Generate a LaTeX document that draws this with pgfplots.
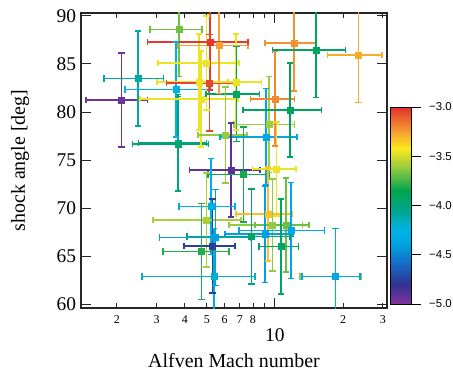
\documentclass[border=0pt]{standalone}
\usepackage{pgfplots}
\pgfplotsset{compat=1.18}
\usepackage{fontspec}
\setmainfont{Liberation Serif}
\setsansfont{Liberation Sans}

\pgfplotsset{colormap={rb}{
 rgb255(0pt)=(130,50,160);
 rgb255(20pt)=(50,50,145);
 rgb255(40pt)=(20,105,195);
 rgb255(60pt)=(0,160,225);
 rgb255(75pt)=(0,180,230);
 rgb255(95pt)=(0,165,140);
 rgb255(115pt)=(0,165,80);
 rgb255(140pt)=(160,205,60);
 rgb255(158pt)=(250,232,30);
 rgb255(175pt)=(245,160,50);
 rgb255(200pt)=(230,45,45)},
 colorbar shift/.style={xshift=3.7bp}}

% #1 x, #2 y, #3 x error, #4 lower end of y bar, #5 upper end of y bar,
% #6 colour value on the colormap (0..1000 <-> -5..-3)
\newcommand{\pt}[6]{%
 \addplot[color of colormap={#6}, line width=1.6pt, mark=-, mark size=3.2bp,
  mark options={solid, line width=1.5pt}]
  coordinates {(#1,#4) (#1,#5)};
 \addplot[color of colormap={#6}, only marks, mark=square*, mark size=3bp,
  error bars/.cd, x dir=both, x explicit,
  error bar style={line width=1.6pt},
  error mark options={rotate=90, mark size=3.2bp, line width=1.5pt}]
  coordinates {(#1,#2) +- (#3,0)};}

\begin{document}
\begin{tikzpicture}
\useasboundingbox (-81bp,-64bp) rectangle (372bp,308bp);
\begin{axis}[
 at={(0,0)}, anchor=south west,
 scale only axis, width=306bp, height=295bp,
 xmode=log, xmin=1.39, xmax=31.3, ymin=59.6, ymax=90.3,
 axis line style={line width=1.1pt, black!85},
 tick align=inside,
 major tick length=10bp, minor tick length=5bp,
 every tick/.style={black!85, line width=0.9pt},
 ytick={60,65,...,90},
 yticklabel style={font=\fontsize{19.5}{20}\selectfont, xshift=-1.5bp},
 /pgf/number format/assume math mode=true,
 xtick={10}, xticklabels={10},
 xticklabel style={font=\fontsize{19.5}{20}\selectfont, yshift=-17.5bp},
 minor xtick={2,3,4,5,6,7,8,9,20,30},
 extra x ticks={2,3,4,5,6,7,8,20,30},
 extra x tick labels={2,3,4,5,6,7,8,2,3},
 extra x tick style={major tick length=0pt, xticklabel style={font=\fontsize{12}{12}\selectfont, yshift=13.5bp}},
 xlabel={Alfven Mach number},
 ylabel={shock angle [deg]},
 label style={font=\fontsize{20}{22}\selectfont},
 xlabel style={at={(axis description cs:0.5,-0.178)}, anchor=center},
 ylabel style={at={(axis description cs:-0.199,0.5)}, anchor=center},
 colormap name=rb, point meta min=-5, point meta max=-3,
 colorbar, colorbar/width=21bp,
 colorbar style={
   at={(parent axis.south east)}, anchor=south west, yshift=4bp,
   height=197bp,
   ytick={-5,-4.5,-4,-3.5,-3},
   yticklabels={−5.0,−4.5,−4.0,−3.5,−3.0},
   yticklabel style={font=\sffamily\fontsize{11.5}{12}\selectfont, xshift=5bp},
   tick align=outside, major tick length=9bp, ytick pos=right,
   axis line style={line width=0.6pt, black},
   every tick/.style={black, line width=0.6pt},
 },
]
\pt{2.10}{81.24}{0.64}{76.34}{86.14}{25}
\pt{2.49}{83.50}{0.73}{78.55}{88.45}{450}
\pt{3.78}{88.60}{0.98}{83.70}{93.50}{660}
\pt{3.72}{76.66}{1.37}{71.71}{81.61}{540}
\pt{3.74}{76.80}{1.25}{71.80}{81.80}{510}
\pt{3.65}{82.35}{1.47}{77.40}{87.30}{360}
\pt{4.62}{83.14}{1.60}{78.14}{88.14}{775}
\pt{4.70}{81.34}{2.17}{76.34}{86.34}{775}
\pt{4.99}{85.11}{1.95}{80.21}{90.01}{775}
\pt{5.67}{86.90}{1.95}{81.90}{91.90}{875}
\pt{5.16}{87.30}{2.43}{82.30}{92.30}{990}
\pt{5.13}{83.04}{1.81}{78.04}{88.04}{975}
\pt{6.72}{83.14}{2.00}{78.14}{88.14}{775}
\pt{6.77}{81.86}{1.80}{76.91}{86.81}{550}
\pt{6.05}{77.60}{1.47}{72.60}{82.60}{690}
\pt{9.40}{78.71}{2.80}{73.71}{83.71}{700}
\pt{9.12}{77.42}{3.40}{72.42}{82.42}{325}
\pt{12.16}{87.20}{3.10}{82.20}{92.20}{890}
\pt{15.16}{86.43}{5.40}{81.48}{91.38}{550}
\pt{23.40}{85.91}{6.30}{80.96}{90.86}{860}
\pt{10.02}{81.37}{2.20}{76.47}{86.27}{900}
\pt{11.64}{80.20}{4.40}{75.30}{85.10}{560}
\pt{6.39}{73.96}{2.19}{69.06}{78.86}{50}
\pt{7.27}{73.51}{2.20}{68.56}{78.46}{590}
\pt{10.17}{74.06}{2.20}{69.16}{78.96}{775}
\pt{9.33}{69.39}{2.60}{64.49}{74.29}{835}
\pt{9.76}{68.24}{3.50}{63.44}{73.04}{690}
\pt{11.17}{68.24}{3.00}{63.34}{73.14}{660}
\pt{11.75}{67.65}{4.80}{62.65}{72.65}{325}
\pt{9.03}{67.28}{3.00}{62.28}{72.28}{300}
\pt{7.88}{67.03}{3.80}{62.08}{71.98}{525}
\pt{10.62}{65.99}{2.10}{61.04}{70.94}{540}
\pt{18.50}{62.87}{5.60}{57.87}{67.87}{690}
\pt{18.50}{62.87}{5.30}{57.87}{67.87}{325}
\pt{5.21}{70.15}{1.44}{65.15}{75.15}{360}
\pt{4.99}{68.76}{2.10}{63.86}{73.66}{710}
\pt{5.47}{66.92}{2.38}{61.92}{71.92}{300}
\pt{5.31}{66.06}{1.35}{61.16}{70.96}{125}
\pt{4.74}{65.47}{1.53}{60.47}{70.47}{600}
\pt{5.38}{62.87}{2.80}{57.87}{67.87}{400}
\end{axis}
\end{tikzpicture}
\end{document}
